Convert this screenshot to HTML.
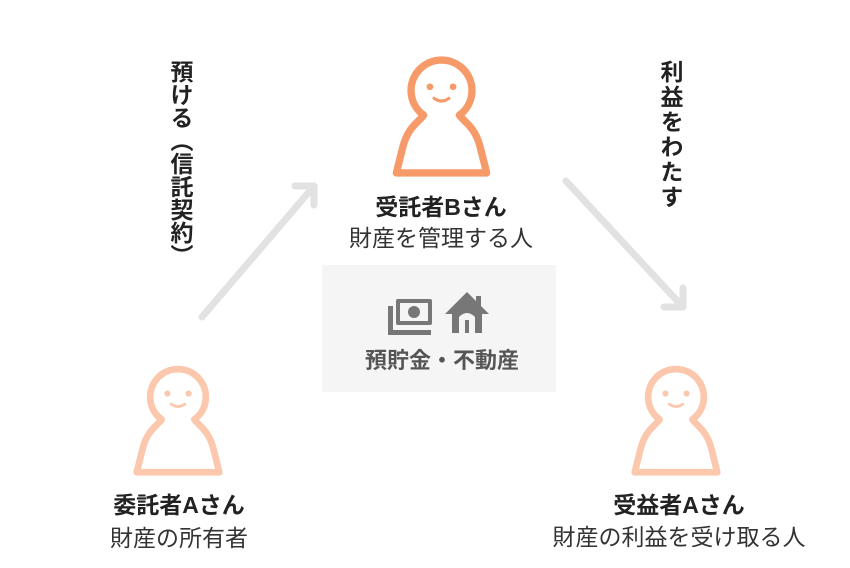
<!DOCTYPE html>
<html><head><meta charset="utf-8"><style>
body{margin:0;width:850px;height:568px;background:#fff;overflow:hidden;position:relative;font-family:"Liberation Sans","Noto Sans CJK JP",sans-serif;color:#333}
.t{position:absolute;text-align:center;white-space:nowrap;transform:translateX(-50%);line-height:1}
.b{font-weight:bold;font-size:23px;color:#222}
.n{font-size:23px;color:#333}
.v{position:absolute;writing-mode:vertical-rl;font-weight:bold;font-size:23px;color:#222;line-height:1}
</style></head><body>
<svg width="850" height="568" style="position:absolute;left:0;top:0">
<defs>
<g id="p">
<path d="M33,63 A29,29 0 1 1 67,63 C72,70 82,74 87,94 L93,118 L7,118 L13,94 C18,74 28,70 33,63 Z" fill="none" stroke-width="7" stroke-linejoin="round"/>
<circle cx="39" cy="36" r="3.2" stroke="none"/><circle cx="61" cy="36" r="3.2" stroke="none"/>
<path d="M43,47 Q50,52 57,47" fill="none" stroke-width="3" stroke-linecap="round"/>
</g>
</defs>
<rect x="322" y="265" width="234" height="127" fill="#f5f5f5"/>
<g stroke="#e2e2e2" stroke-width="7" fill="none" stroke-linecap="round" stroke-linejoin="round">
<line x1="202" y1="317" x2="314" y2="186"/>
<path d="M295,186 L314,186 L314,205"/>
<line x1="566" y1="181" x2="682" y2="306"/>
<path d="M664,307 L683,307 L683,288"/>
</g>
<g transform="translate(389,49) scale(1.05)" stroke="#f79a6a" fill="#f79a6a"><use href="#p"/></g>
<g transform="translate(130,359) scale(0.96)" stroke="#fbc8ad" fill="#fbc8ad"><use href="#p"/></g>
<g transform="translate(628,359) scale(0.96)" stroke="#fbc8ad" fill="#fbc8ad"><use href="#p"/></g>
<!-- money icon -->
<g fill="#777" stroke="none">
<rect x="396" y="299" width="36" height="26" rx="2"/>
<rect x="400" y="303" width="28" height="18" fill="#f5f5f5"/>
<circle cx="414" cy="312" r="6"/>
<path d="M388,306 h5 v24 h38 v5 h-43z"/>
</g>
<!-- house icon -->
<g fill="#777">
<path d="M467,292 L445,314 L452,314 L452,333 L482,333 L482,314 L489,314 L481,306 L481,296 L476,296 L476,301 Z"/>
<path d="M459,333 L459,317 Q467,309 475,317 L475,333 Z" fill="#f5f5f5"/>
<rect x="465" y="320" width="4" height="13"/>
</g>
</svg>
<div class="t" style="left:442px;top:350px;font-size:22px;font-weight:bold;color:#555">預貯金・不動産</div>
<div class="t b" style="left:441px;top:196px">受託者Bさん</div>
<div class="t n" style="left:441px;top:227px">財産を管理する人</div>
<div class="t b" style="left:179px;top:494px">委託者Aさん</div>
<div class="t n" style="left:179px;top:527px">財産の所有者</div>
<div class="t b" style="left:679px;top:494px">受益者Aさん</div>
<div class="t n" style="left:679px;top:526px">財産の利益を受け取る人</div>
<div class="v" style="left:168px;top:60px">預ける（信託契約）</div>
<div class="v" style="left:658px;top:60px;letter-spacing:2px">利益をわたす</div>
</body></html>
